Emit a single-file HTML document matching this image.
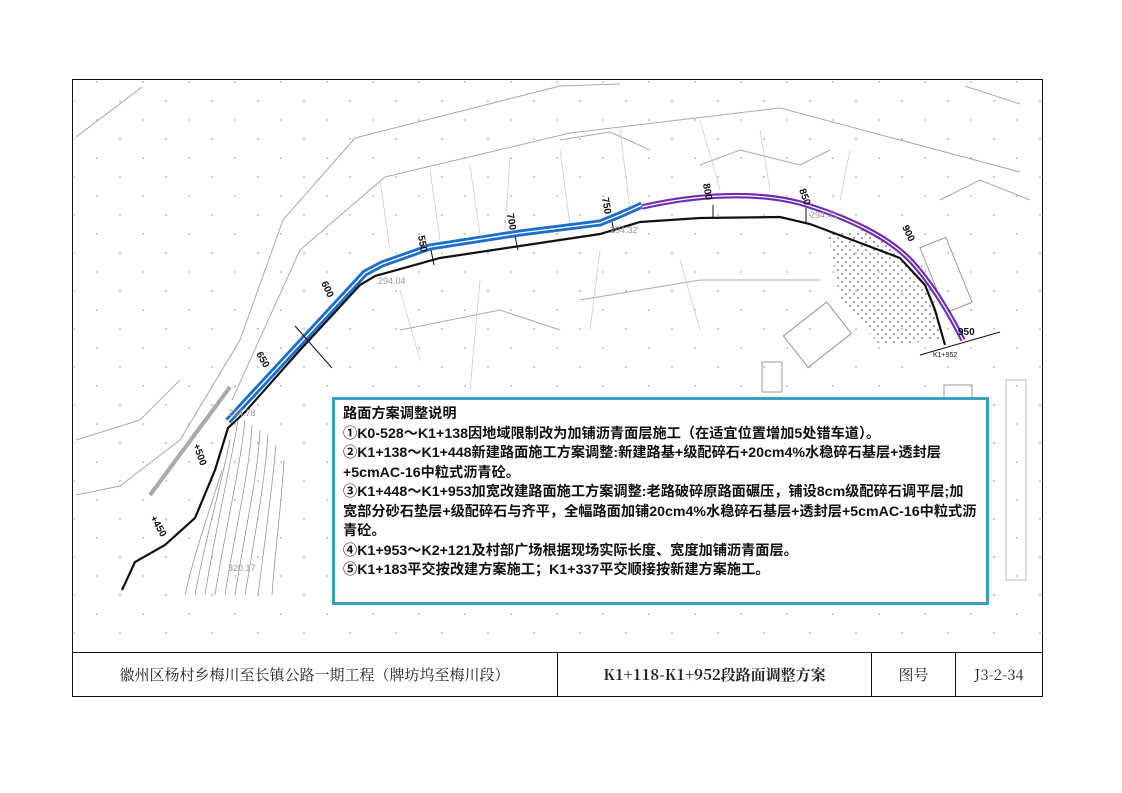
<!DOCTYPE html>
<html><head><meta charset="utf-8"><style>
body{margin:0;background:#fff;width:1122px;height:793px;overflow:hidden;position:relative;font-family:"Liberation Sans","Noto Sans CJK SC",sans-serif}
.frame{position:absolute;left:72px;top:79px;width:971px;height:618px;border:1.5px solid #111;box-sizing:border-box}
.tb{position:absolute;left:72px;top:652px;width:971px;height:45px;border-top:1.5px solid #111;box-sizing:border-box;font-family:"Noto Serif CJK SC",serif;font-size:15px;color:#222;background:#fff}
.tb div{position:absolute;top:0;height:43px;line-height:43px;text-align:center;border-right:1.5px solid #111}
.note{position:absolute;left:332px;top:397px;width:657px;height:208px;border:3px solid #3c9fc0;box-sizing:border-box;background:#fff;padding:5px 0 0 8px;font-size:14.2px;line-height:19.5px;color:#111;font-weight:bold;font-family:"Liberation Sans","Noto Sans CJK SC",sans-serif}
</style></head><body>
<svg width="1122" height="793" style="position:absolute;left:0;top:0">
<defs>
<pattern id="dots" width="46" height="38" patternUnits="userSpaceOnUse"><circle cx="5" cy="6" r="0.9" fill="#aaa"/><circle cx="28" cy="25" r="0.9" fill="#aaa"/></pattern>
<pattern id="hatch" width="8" height="8" patternUnits="userSpaceOnUse"><circle cx="2" cy="2" r="1" fill="#888"/><circle cx="6" cy="6" r="1" fill="#888"/></pattern>
</defs>
<rect x="74" y="81" width="968" height="570" fill="url(#dots)"/>
<g fill="none" stroke="#aaa" stroke-width="1">
<polyline points="76,137 142,87"/>
<polyline points="76,495 120,486 180,440 240,340 283,220 355,138 560,86 620,84"/>
<polyline points="232,400 300,250 385,177 570,133 780,108 1020,172"/>
<polyline points="965,86 1020,104"/>
<polyline points="76,440 140,420 180,380"/>
<polyline points="560,140 610,132 650,150"/>
<polyline points="700,165 740,150 800,165 830,150"/>
<polyline points="580,300 700,280 820,280"/>
<polyline points="400,330 500,310 560,330"/>
<polyline points="940,200 980,180 1030,200"/>
</g>
<g fill="none" stroke="#ccc" stroke-width="0.8">
<path d="M380,180 L390,250 M430,170 L440,240 M470,165 L480,235 M510,158 L505,230 M560,150 L570,225 M620,130 L630,210 M700,120 L720,190 M760,130 L770,190 M850,150 L840,200 M400,290 L420,360 M480,280 L470,390 M600,250 L590,330 M680,260 L700,330"/>
</g>
<line x1="150" y1="495" x2="230" y2="387" stroke="#aaa" stroke-width="4"/>
<g fill="none" stroke="#888" stroke-width="0.7">
<path d="M238,420 C230,470 215,530 205,595"/>
<path d="M245,420 C240,470 225,530 215,595"/>
<path d="M252,425 C250,470 235,530 225,595"/>
<path d="M260,430 C258,475 245,530 235,595"/>
<path d="M268,435 C265,480 255,535 245,595"/>
<path d="M276,445 C272,490 265,540 258,595"/>
<path d="M284,460 C282,500 275,550 272,595"/>
<path d="M230,440 C220,490 205,540 195,595"/>
<path d="M222,470 C210,510 195,550 185,595"/>
</g>
<path d="M828,235 L870,228 L925,268 L945,340 L880,345 L840,300 Z" fill="url(#hatch)"/>
<g fill="none" stroke="#999" stroke-width="1">
<rect x="932" y="240" width="28" height="70" transform="rotate(-22 946 275)"/>
<rect x="790" y="315" width="55" height="40" transform="rotate(-38 817 335)"/>
<rect x="762" y="362" width="20" height="30"/>
<rect x="944" y="385" width="28" height="20"/>
<rect x="1006" y="380" width="20" height="200" stroke="#bbb"/>
</g>
<polyline fill="none" stroke="#111" stroke-width="2.2" points="122,590 135,562 165,545 195,518 215,470 228,428 245,412 300,350 360,285 375,276 440,258 520,246 600,234 640,222 700,218 780,217 810,224 900,258 925,285 935,310 945,345"/>
<g fill="none">
<polyline stroke="#1f6fc8" stroke-width="7" points="228,421 365,273 382,264 430,247 520,233 600,223 622,214 642,205"/>
<polyline stroke="#fff" stroke-width="1.3" points="228,421 365,273 382,264 430,247 520,233 600,223 622,214 642,205"/>
<path stroke="#6f2db0" stroke-width="5.5" d="M642,207 C690,196 750,190 800,203 C850,218 890,238 912,262 C930,282 945,305 963,340"/>
<path stroke="#fff" stroke-width="1.2" d="M642,207 C690,196 750,190 800,203 C850,218 890,238 912,262 C930,282 945,305 963,340"/>
</g>
<g stroke="#111" stroke-width="1">
<line x1="295" y1="326" x2="332" y2="368"/><line x1="920" y1="355" x2="1000" y2="332"/>
<line x1="431" y1="250" x2="434" y2="265"/><line x1="515" y1="236" x2="518" y2="250"/><line x1="612" y1="222" x2="614" y2="232"/>
<line x1="713" y1="205" x2="713" y2="218"/><line x1="806" y1="208" x2="806" y2="222"/>
</g>
<g font-size="10" font-weight="bold" fill="#111" font-family="Liberation Sans,sans-serif">
<text transform="translate(418,236) rotate(80)">550</text>
<text transform="translate(507,214) rotate(80)">700</text>
<text transform="translate(602,198) rotate(80)">750</text>
<text transform="translate(703,184) rotate(80)">800</text>
<text transform="translate(799,190) rotate(70)">850</text>
<text transform="translate(902,227) rotate(65)">900</text>
<text transform="translate(321,283) rotate(65)">600</text>
<text transform="translate(256,354) rotate(60)">650</text>
<text transform="translate(193,445) rotate(70)">+500</text>
<text transform="translate(150,518) rotate(60)">+450</text>
<text x="958" y="335">950</text>
<text x="933" y="357" font-size="7" font-weight="normal">K1+952</text>
</g>
<g font-size="9" fill="#999" font-family="Liberation Sans,sans-serif">
<text x="378" y="284">294.04</text><text x="610" y="233">294.32</text><text x="810" y="218">294.41</text>
<text x="228" y="416">294.78</text><text x="228" y="571">320.17</text>
</g>
</svg>
<div class="tb">
<div style="left:0;width:485px">徽州区杨村乡梅川至长镇公路一期工程（牌坊坞至梅川段）</div>
<div style="left:486px;width:313px;font-weight:bold;font-family:'Noto Serif CJK SC','Liberation Serif',serif">K1+118-K1+952段路面调整方案</div>
<div style="left:800px;width:83px">图号</div>
<div style="left:884px;width:86px;border-right:none">J3-2-34</div>
</div>
<div class="frame"></div>
<div class="note">路面方案调整说明<br>①K0-528～K1+138因地域限制改为加铺沥青面层施工（在适宜位置增加5处错车道）。<br>②K1+138～K1+448新建路面施工方案调整:新建路基+级配碎石+20cm4%水稳碎石基层+透封层<br>+5cmAC-16中粒式沥青砼。<br>③K1+448～K1+953加宽改建路面施工方案调整:老路破碎原路面碾压，铺设8cm级配碎石调平层;加<br>宽部分砂石垫层+级配碎石与齐平，全幅路面加铺20cm4%水稳碎石基层+透封层+5cmAC-16中粒式沥<br>青砼。<br>④K1+953～K2+121及村部广场根据现场实际长度、宽度加铺沥青面层。<br>⑤K1+183平交按改建方案施工；K1+337平交顺接按新建方案施工。</div>
</body></html>
